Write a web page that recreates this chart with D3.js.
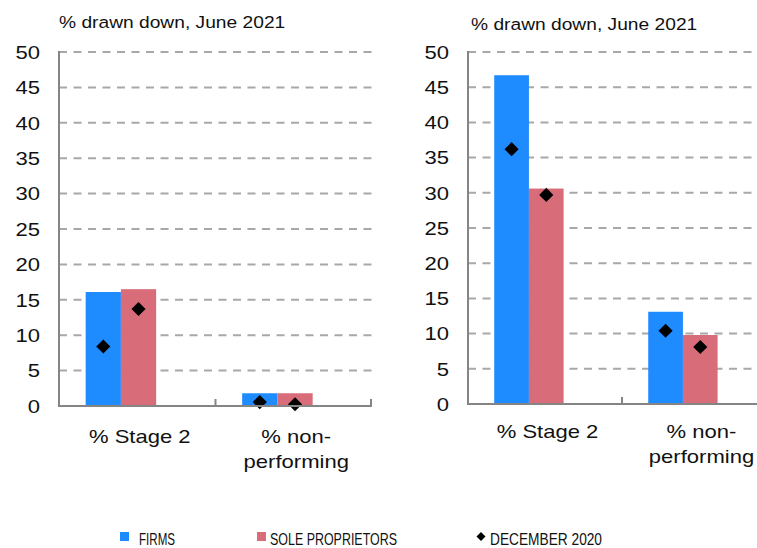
<!DOCTYPE html>
<html>
<head>
<meta charset="utf-8">
<script src="https://cdn.jsdelivr.net/npm/d3@7"></script>
<style>
  html, body { margin: 0; padding: 0; background: #fff; }
  svg { display: block; }
  text { font-family: "Liberation Sans", Arial, Helvetica, sans-serif; fill: #111; }
  .legend text { font-family: "Liberation Sans Narrow", "Liberation Sans", Arial, sans-serif; }
</style>
</head>
<body>
<svg id="chart" width="757" height="548"></svg>
<script>
// Categories (label lines) and tick values
const categories = ["stage2", "npl"];
const categoryLines = [["% Stage 2"], ["% non-", "performing"]];
const yTicks = [0, 5, 10, 15, 20, 25, 30, 35, 40, 45, 50];
const gridTicks = [5, 10, 15, 20, 25, 30, 35, 40, 45, 50];
const series = ["firms", "sole"];
const seriesNames = ["FIRMS", "SOLE PROPRIETORS", "DECEMBER 2020"];
const panelTitle = "% drawn down, June 2021";

// Left panel: June 2021 bars and December 2020 markers
const leftFirms = [16.1, 1.8];
const leftSole = [16.5, 1.8];
const leftDecFirms = [8.4, 0.55];
const leftDecSole = [13.7, 0.25];

// Right panel
const rightFirms = [46.7, 13.1];
const rightSole = [30.6, 9.8];
const rightDecFirms = [36.2, 10.4];
const rightDecSole = [29.7, 8.1];

const colors = { firms: "#1E8BFF", sole: "#D86C79" };
const axisColor = "#858585";
const gridColor = "#A8A8A8";
const TEXT_SX = 1.16;

const svg = d3.select("#chart");

function stretchedText(g, x, y, str, opts) {
  const t = g.append("text")
    .attr("transform", `translate(${x},${y}) scale(${opts.sx || TEXT_SX},1)`)
    .attr("font-size", opts.size)
    .attr("text-anchor", opts.anchor || "start")
    .text(str);
  if (opts.dy) t.attr("dy", opts.dy);
  return t;
}

const diamond = d3.symbol().type(d3.symbolSquare);

function drawPanel(cfg) {
  const g = svg.append("g");
  const x = d3.scaleBand().domain(categories).range(cfg.xRange).padding(0);
  const y = d3.scaleLinear().domain([0, 50]).range(cfg.yRange);
  const sub = d3.scaleBand().domain(series).range([0, x.bandwidth()])
    .paddingInner(0).paddingOuter(1.22).align(0.31);

  // dashed gridlines
  g.append("g").selectAll("line").data(gridTicks).join("line")
    .attr("x1", cfg.xRange[0]).attr("x2", cfg.xRange[1])
    .attr("y1", d => y(d)).attr("y2", d => y(d))
    .attr("stroke", gridColor).attr("stroke-width", 2)
    .attr("stroke-dasharray", "8,6.5");

  // bars
  const rows = categories.map((c, i) => ({ cat: c, firms: cfg.firms[i], sole: cfg.sole[i],
    decFirms: cfg.decFirms[i], decSole: cfg.decSole[i] }));
  const grp = g.append("g").selectAll("g").data(rows).join("g")
    .attr("transform", d => `translate(${x(d.cat)},0)`);
  grp.selectAll("rect").data(d => series.map(s => ({ s, v: d[s] }))).join("rect")
    .attr("x", d => sub(d.s)).attr("width", sub.bandwidth())
    .attr("y", d => y(d.v)).attr("height", d => y(0) - y(d.v))
    .attr("fill", d => colors[d.s]);

  // December 2020 markers
  grp.selectAll("path").data(d => [{ s: "firms", v: d.decFirms }, { s: "sole", v: d.decSole }]).join("path")
    .attr("d", diamond.size(100)())
    .attr("transform", d => `translate(${sub(d.s) + sub.bandwidth() / 2},${y(d.v)}) rotate(45)`)
    .attr("fill", "#000");

  // axes
  g.append("line")
    .attr("x1", cfg.xRange[0]).attr("x2", cfg.xRange[0])
    .attr("y1", y(50) - 1).attr("y2", y(0))
    .attr("stroke", axisColor).attr("stroke-width", 2);
  g.append("line")
    .attr("x1", cfg.xRange[0] - 1).attr("x2", cfg.xRange[1])
    .attr("y1", y(0)).attr("y2", y(0))
    .attr("stroke", axisColor).attr("stroke-width", 2);
  // category separator ticks
  const bounds = categories.map(c => x(c)).slice(1).concat([cfg.xRange[1] - 1]);
  g.append("g").selectAll("line").data(bounds).join("line")
    .attr("x1", d => d).attr("x2", d => d)
    .attr("y1", y(0)).attr("y2", y(0) - 7)
    .attr("stroke", axisColor).attr("stroke-width", 2);

  // y tick labels
  yTicks.forEach(v => {
    stretchedText(g, cfg.xRange[0] - 19, y(v), String(v), { size: 19, anchor: "end", dy: "0.36em" });
  });

  // category labels
  categories.forEach((c, i) => {
    categoryLines[i].forEach((line, j) => {
      stretchedText(g, x(c) + x.bandwidth() / 2 + 2.5, cfg.labelY + j * cfg.lineGap, line,
        { size: 19, anchor: "middle" });
    });
  });

  // panel title
  stretchedText(g, cfg.titleX, cfg.titleY, panelTitle, { size: 17, sx: 1.13 });
}

drawPanel({
  xRange: [59, 372], yRange: [406, 52],
  firms: leftFirms, sole: leftSole, decFirms: leftDecFirms, decSole: leftDecSole,
  labelY: 443, lineGap: 25, titleX: 59, titleY: 28
});
drawPanel({
  xRange: [468, 776], yRange: [404, 52],
  firms: rightFirms, sole: rightSole, decFirms: rightDecFirms, decSole: rightDecSole,
  labelY: 438, lineGap: 24.5, titleX: 471, titleY: 30
});

// legend
const lg = svg.append("g").attr("class", "legend");
const legendItems = [
  { name: seriesNames[0], kind: "rect", color: colors.firms, mx: 120, tx: 139, w: 36 },
  { name: seriesNames[1], kind: "rect", color: colors.sole, mx: 257, tx: 270, w: 127 },
  { name: seriesNames[2], kind: "diamond", color: "#000", mx: 476.5, tx: 490, w: 112 }
];
legendItems.forEach(it => {
  if (it.kind === "rect") {
    lg.append("rect").attr("x", it.mx).attr("y", 532).attr("width", 9).attr("height", 9).attr("fill", it.color);
  } else {
    lg.append("path").attr("d", diamond.size(40)())
      .attr("transform", `translate(${it.mx + 4.5},536.5) rotate(45)`).attr("fill", it.color);
  }
  lg.append("text").attr("x", it.tx).attr("y", 544.5)
    .attr("font-size", 17)
    .attr("textLength", it.w).attr("lengthAdjust", "spacingAndGlyphs")
    .text(it.name);
});
</script>
</body>
</html>
